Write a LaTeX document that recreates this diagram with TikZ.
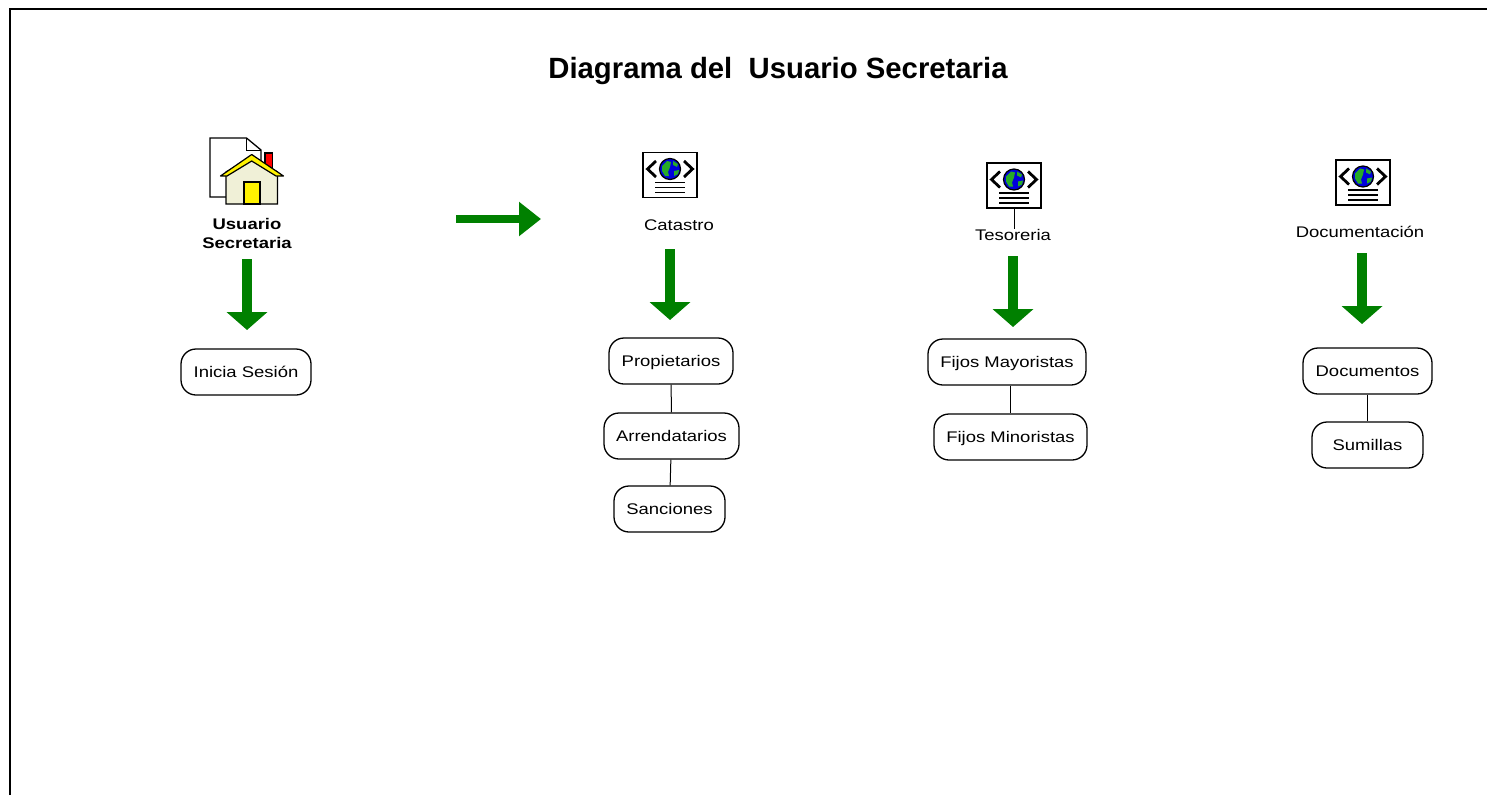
\documentclass[tikz,border=0pt]{standalone}
\usepackage{fontspec}
\usepackage{xcolor}
\usetikzlibrary{arrows.meta, positioning}
\setmainfont{Liberation Sans}
\newfontfamily\anchafont[FakeStretch=1.2]{Liberation Sans}
\definecolor{flechagreen}{RGB}{0,128,0}
\definecolor{casawall}{RGB}{240,240,215}
\definecolor{globeblue}{RGB}{0,0,220}
\definecolor{globegreen}{RGB}{40,170,40}
\tikzset{
  menubox/.style={draw, line width=1.3pt, rounded corners=15pt, minimum height=46pt, minimum width=#1, inner sep=0pt, text height=11pt, text depth=0pt, font=\anchafont\fontsize{15.4}{18}\selectfont},
  caption/.style={inner sep=0pt, font=\anchafont\fontsize{15.4}{18}\selectfont},
  flecha/.style={flechagreen, line width=10pt, -{Triangle[width=40pt,length=18pt]}},
  flechapaso/.style={flechagreen, line width=8pt, -{Triangle[width=33pt,length=22pt]}},
  webicon/.pic={
    \draw[line width=1.3pt, fill=white] (-27,-22.5) rectangle (27,22.5);
    \draw[line width=2.8pt] (-14,-14) -- (-22.5,-6) -- (-14,2);
    \draw[line width=2.8pt] (14,-14) -- (22.5,-6) -- (14,2);
    \fill[globeblue] (0,-6) circle (10.5);
    \fill[globegreen] (-8,-9) -- (-3,-14) -- (1,-13) -- (0,-8) -- (-2,-3) -- (-1,1) -- (-5,1) -- (-8,-4) -- cycle;
    \fill[globegreen] (3,-14) -- (8,-11) -- (7,-8) -- (3,-10) -- cycle;
    \fill[globegreen] (4,-4) -- (9,-5) -- (8,-1) -- (4,1) -- cycle;
    \draw[line width=1.2pt] (0,-6) circle (10.5);
    \draw[line width=1.2pt] (-15,7.5) -- (15,7.5) (-15,12.5) -- (15,12.5) (-15,17.5) -- (15,17.5);
  }
}
\begin{document}
\begin{tikzpicture}[x=1pt,y=-1pt]
  \useasboundingbox (0,0) rectangle (1487,795);
  % frame
  \draw[line width=2pt] (10,795) -- (10,9) -- (1487,9);
  \node[inner sep=0pt, font=\fontsize{29.3}{34}\selectfont\bfseries] (titulo) at (778,71) {Diagrama del\ \ Usuario Secretaria};

  % house icon
  \draw[line width=1.3pt, fill=white] (210,138) -- (246.5,138) -- (261,150) -- (261,190) -- (261,197) -- (210,197) -- cycle;
  \draw[line width=1pt] (246.5,138) -- (246.5,150) -- (261,150);
  \draw[line width=1.2pt, fill=red] (265,153) rectangle (272.5,170);
  \draw[line width=1.3pt, fill=casawall] (226,172) -- (251.7,158) -- (277.5,172) -- (277.5,204) -- (226,204) -- cycle;
  \draw[line width=1.3pt, fill=yellow] (244,182) rectangle (260,204);
  \draw[line width=1.2pt, fill=yellow, line join=round] (220.5,176) -- (251.7,154.5) -- (283.5,176) -- (276,176) -- (251.7,161) -- (227,176) -- cycle;
  \node[inner sep=0pt, align=center, font=\anchafont\fontsize{15.4}{19}\selectfont\bfseries] (usuario) at (247,233.5) {Usuario\\Secretaria};

  % web icons
  \pic at (670,175) {webicon};
  \pic at (1014,185.5) {webicon};
  \pic at (1363,182.5) {webicon};
  \coordinate (tesoicon) at (1014,208);
  \node[caption] (catastro) at (679,225) {Catastro};
  \node[caption] (tesoreria) at (1013,235) {Tesoreria};
  \node[caption] (documentacion) at (1360,232) {Documentación};
  \draw[line width=1pt] (tesoicon) -- (tesoicon |- tesoreria.north);

  % boxes
  \node[menubox=130pt] (inicia) at (246,372) {Inicia Sesión};
  \node[menubox=124pt] (propietarios) at (671,361) {Propietarios};
  \node[menubox=135pt] (arrendatarios) at (671.5,436) {Arrendatarios};
  \node[menubox=111pt] (sanciones) at (669.5,509) {Sanciones};
  \node[menubox=158pt] (mayoristas) at (1007,362) {Fijos Mayoristas};
  \node[menubox=153pt] (minoristas) at (1010.5,437) {Fijos Minoristas};
  \node[menubox=129pt] (documentos) at (1367.5,371) {Documentos};
  \node[menubox=111pt] (sumillas) at (1367.5,445) {Sumillas};

  \draw[line width=1pt] (propietarios) -- (arrendatarios);
  \draw[line width=1pt] (arrendatarios) -- (sanciones);
  \draw[line width=1pt] (minoristas.north |- mayoristas.south) -- (minoristas);
  \draw[line width=1pt] (documentos) -- (sumillas);

  % arrows
  \coordinate (usuarioin) at (247,259);
  \coordinate (usuarioout) at (247,330);
  \coordinate (catastroin) at (670,249);
  \coordinate (catastroout) at (670,320);
  \coordinate (tesoin) at (1013,256);
  \coordinate (tesoout) at (1013,327);
  \coordinate (docin) at (1362,253);
  \coordinate (docout) at (1362,324);
  \coordinate (pasoin) at (456,219);
  \coordinate (pasoout) at (541,219);
  \draw[flecha] (usuarioin) -- (usuarioout);
  \draw[flecha] (catastroin) -- (catastroout);
  \draw[flecha] (tesoin) -- (tesoout);
  \draw[flecha] (docin) -- (docout);
  \draw[flechapaso] (pasoin) -- (pasoout);
\end{tikzpicture}
\end{document}
